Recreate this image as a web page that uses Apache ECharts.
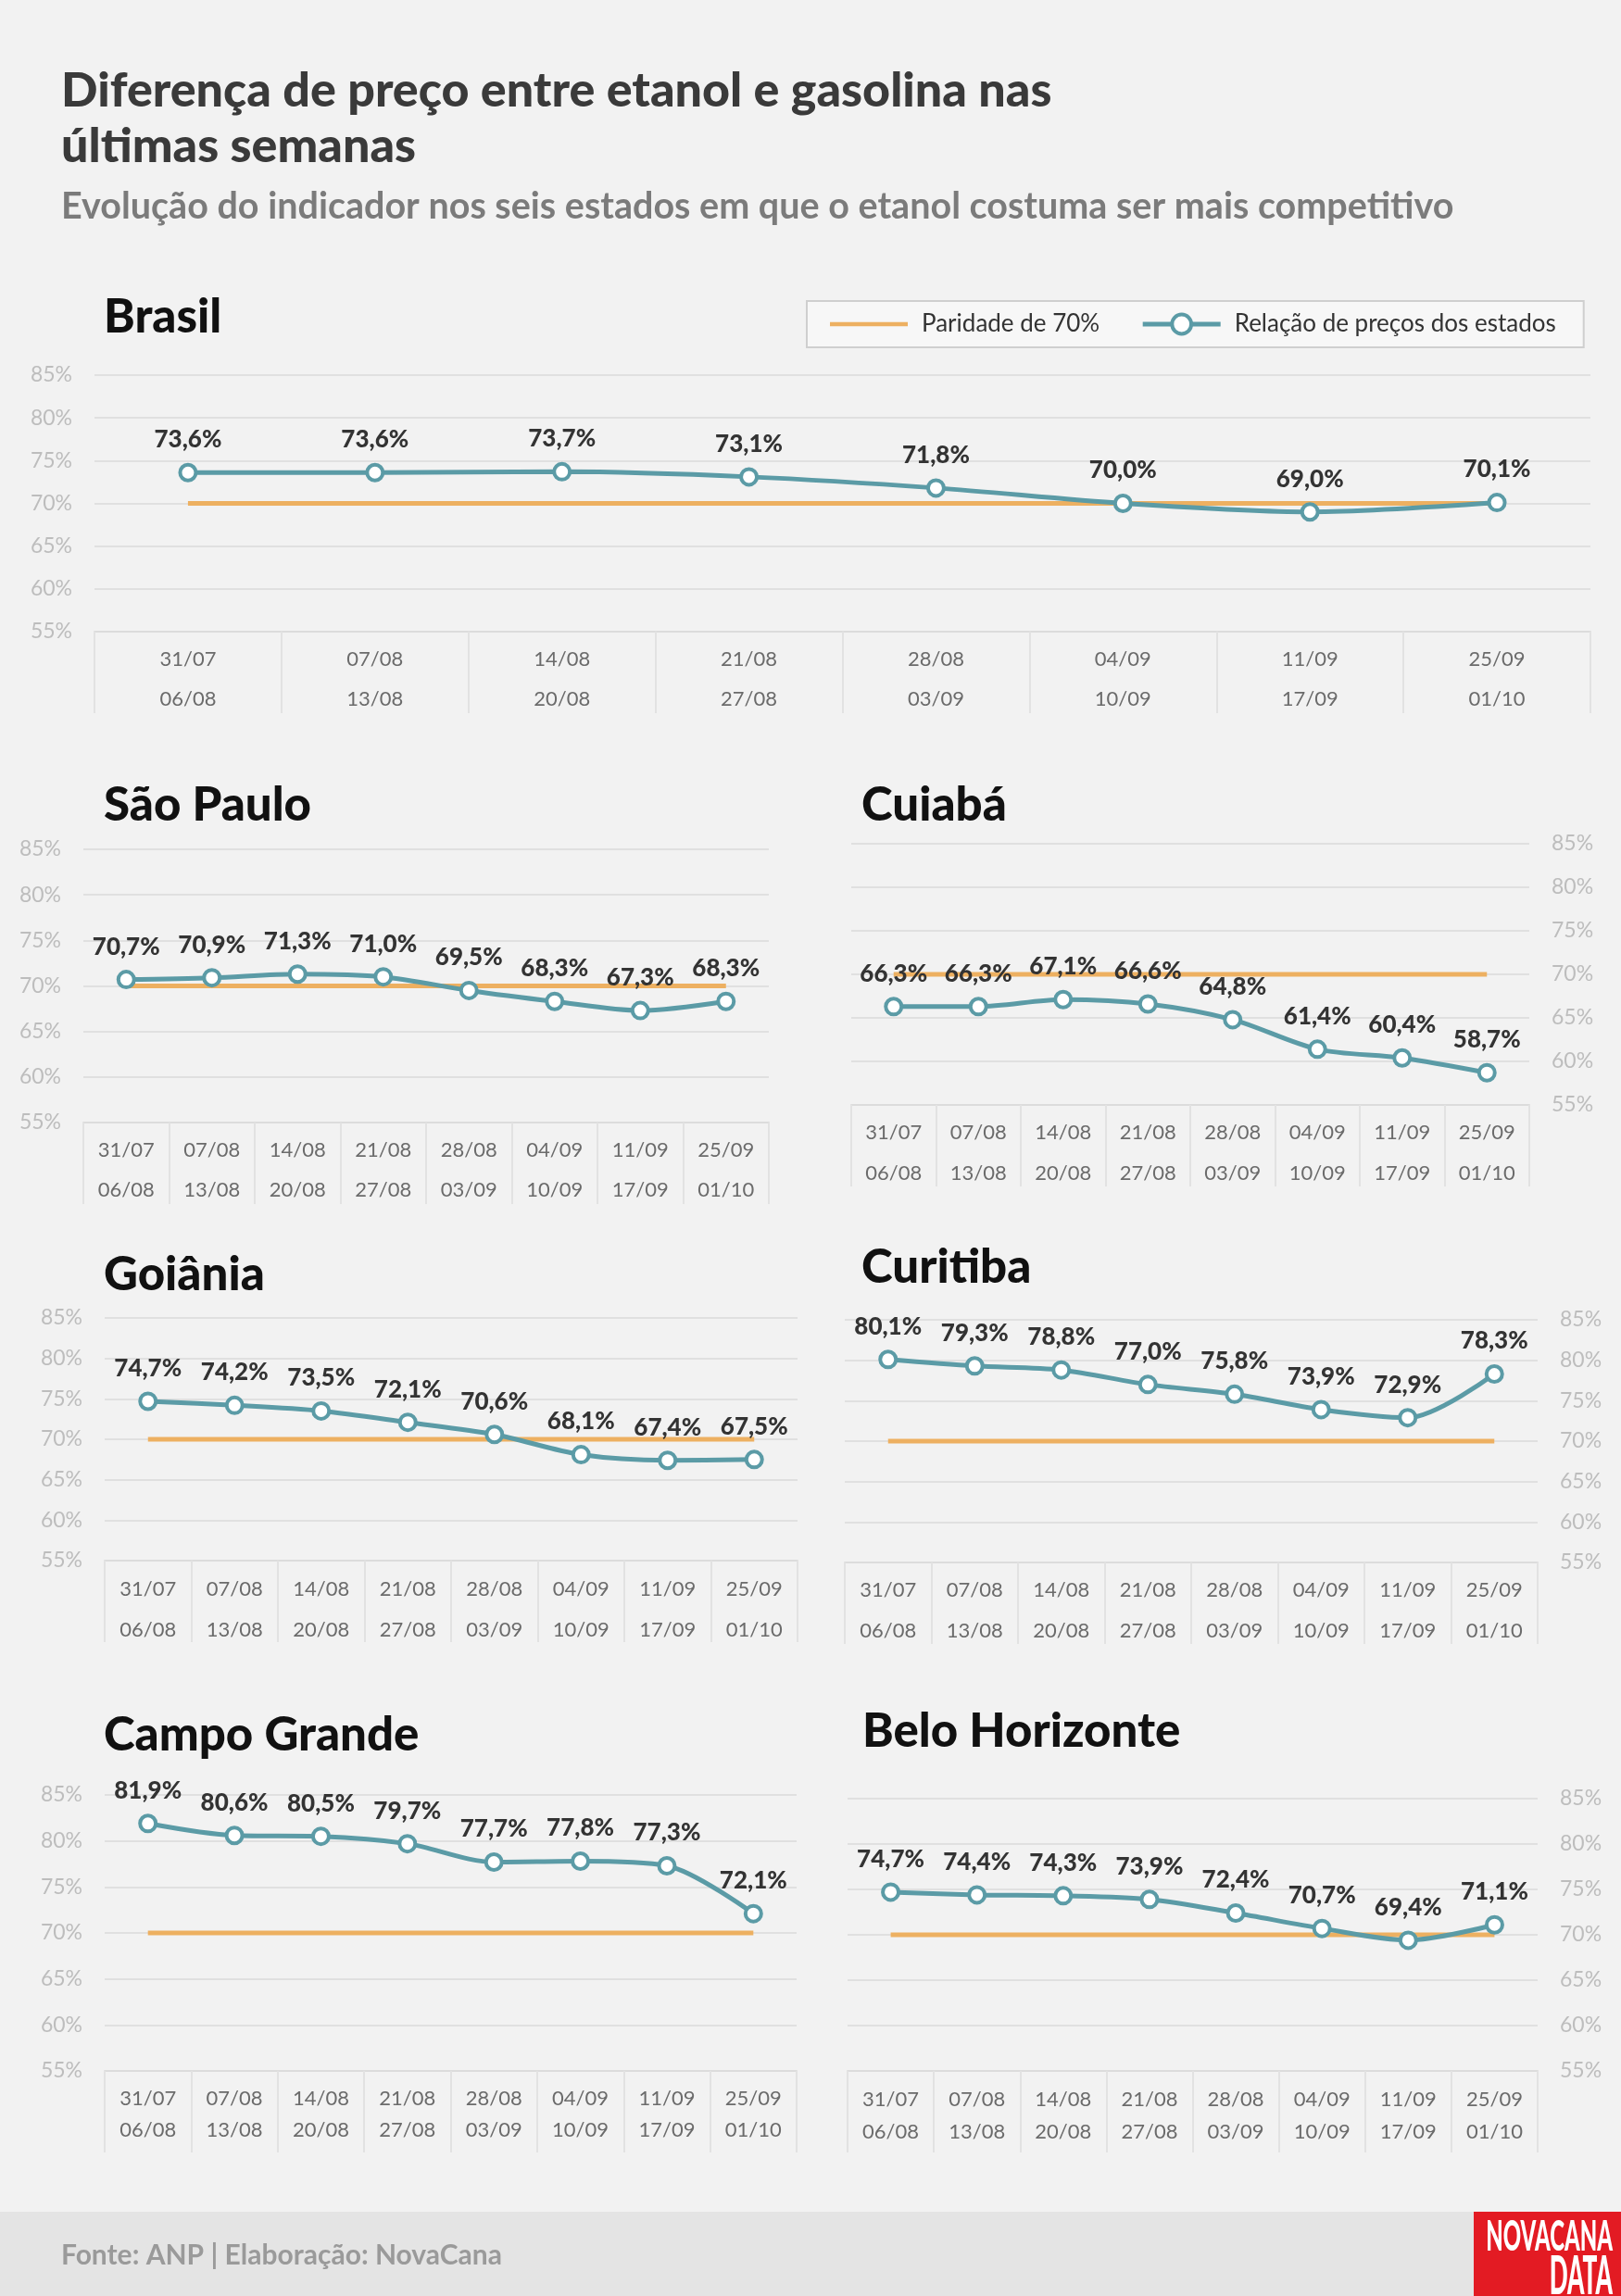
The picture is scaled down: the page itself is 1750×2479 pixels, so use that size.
<!DOCTYPE html>
<html>
<head>
<meta charset="utf-8">
<title>Diferença de preço entre etanol e gasolina</title>
<script src="https://cdn.jsdelivr.net/npm/echarts@6/dist/echarts.min.js"></script>
<style>
  html, body { margin: 0; padding: 0; background: #f2f2f2; }
  #main { width: 1750px; height: 2479px; }
</style>
</head>
<body>
<div id="main"></div>
<script>
// semanas (inicio / fim)
var weekStart = ['31/07', '07/08', '14/08', '21/08', '28/08', '04/09', '11/09', '25/09'];
var weekEnd   = ['06/08', '13/08', '20/08', '27/08', '03/09', '10/09', '17/09', '01/10'];
var yTicks = [55, 60, 65, 70, 75, 80, 85];

// paridade de 70%
var paridade = [70, 70, 70, 70, 70, 70, 70, 70];

// relacao etanol / gasolina (%)
var brasil        = [73.6, 73.6, 73.7, 73.1, 71.8, 70.0, 69.0, 70.1];
var saoPaulo      = [70.7, 70.9, 71.3, 71.0, 69.5, 68.3, 67.3, 68.3];
var cuiaba        = [66.3, 66.3, 67.1, 66.6, 64.8, 61.4, 60.4, 58.7];
var goiania       = [74.7, 74.2, 73.5, 72.1, 70.6, 68.1, 67.4, 67.5];
var curitiba      = [80.1, 79.3, 78.8, 77.0, 75.8, 73.9, 72.9, 78.3];
var campoGrande   = [81.9, 80.6, 80.5, 79.7, 77.7, 77.8, 77.3, 72.1];
var beloHorizonte = [74.7, 74.4, 74.3, 73.9, 72.4, 70.7, 69.4, 71.1];

var categories = weekStart.map(function (s, i) { return s + '\n' + weekEnd[i]; });

var TEAL = '#5b9ba6';
var ORANGE = '#edb061';
var FONT = 'Lato';

var panels = [
  { name: 'Brasil', data: brasil, grid: { left: 102, top: 405, width: 1615, height: 277 }, side: 'left', tx: 112, ty: 318, lh: 43, mg: 8 },
  { name: 'São Paulo', data: saoPaulo, grid: { left: 90, top: 917, width: 740, height: 295 }, side: 'left', tx: 112, ty: 845, lh: 43, mg: 8 },
  { name: 'Cuiabá', data: cuiaba, grid: { left: 919, top: 911, width: 732, height: 282 }, side: 'right', tx: 930, ty: 845, lh: 44, mg: 8 },
  { name: 'Goiânia', data: goiania, grid: { left: 113, top: 1423, width: 748, height: 262 }, side: 'left', tx: 112, ty: 1352, lh: 44, mg: 9 },
  { name: 'Curitiba', data: curitiba, grid: { left: 912, top: 1425, width: 748, height: 262 }, side: 'right', tx: 930, ty: 1344, lh: 44, mg: 8 },
  { name: 'Campo Grande', data: campoGrande, grid: { left: 113, top: 1938, width: 747, height: 298 }, side: 'left', tx: 112, ty: 1849, lh: 34, mg: 13 },
  { name: 'Belo Horizonte', data: beloHorizonte, grid: { left: 915, top: 1942, width: 745, height: 294 }, side: 'right', tx: 931, ty: 1845, lh: 35, mg: 13 }
];

function pct(v) {
  return v.toFixed(1).replace('.', ',') + '%';
}

var grids = [], xAxes = [], yAxes = [], series = [];
var titles = [
  {
    text: 'Diferença de preço entre etanol e gasolina nas\núltimas semanas',
    left: 66, top: 68, padding: 0,
    textStyle: { fontFamily: FONT, fontWeight: 900, fontSize: 52, lineHeight: 60, color: '#3a3a3a' }
  },
  {
    text: 'Evolução do indicador nos seis estados em que o etanol costuma ser mais competitivo',
    left: 66, top: 203, padding: 0,
    textStyle: { fontFamily: FONT, fontWeight: 'bold', fontSize: 39.5, lineHeight: 40, color: '#7b7b7b' }
  }
];

panels.forEach(function (p, i) {
  grids.push(p.grid);
  titles.push({
    text: p.name, left: p.tx, top: p.ty, padding: 0,
    textStyle: { fontFamily: FONT, fontWeight: 900, fontSize: 51, lineHeight: 50, color: '#111' }
  });
  xAxes.push({
    type: 'category', gridIndex: i, data: categories, boundaryGap: true,
    axisLine: { show: true, lineStyle: { color: '#dcdcdc', width: 2 } },
    axisTick: { show: true, interval: 0, length: 88, lineStyle: { color: '#e2e2e2', width: 2 } },
    axisLabel: { interval: 0, margin: p.mg, lineHeight: p.lh, fontFamily: FONT, fontSize: 22, color: '#6b6b6b' }
  });
  yAxes.push({
    type: 'value', gridIndex: i, position: p.side, min: yTicks[0], max: yTicks[yTicks.length - 1], interval: 5,
    axisLine: { show: false }, axisTick: { show: false },
    splitLine: { lineStyle: { color: '#e0e0e0', width: 2 } },
    axisLabel: { formatter: '{value}%', margin: 24, fontFamily: FONT, fontSize: 23, color: '#bdbdbd' }
  });
  series.push({
    name: 'Paridade de 70%', type: 'line', xAxisIndex: i, yAxisIndex: i,
    data: paridade, symbol: 'none', z: 2,
    lineStyle: { color: ORANGE, width: 5 }, itemStyle: { color: ORANGE }
  });
  series.push({
    name: 'Relação de preços dos estados', type: 'line', xAxisIndex: i, yAxisIndex: i,
    data: p.data, smooth: 0.3, z: 3,
    symbol: 'circle', symbolSize: 17,
    lineStyle: { color: TEAL, width: 5 },
    itemStyle: { color: '#ffffff', borderColor: TEAL, borderWidth: 4 },
    label: {
      show: true, position: 'top', distance: 12,
      formatter: function (d) { return pct(d.value); },
      fontFamily: FONT, fontWeight: 900, fontSize: 26, color: '#333333'
    }
  });
});

var chart = echarts.init(document.getElementById('main'));
chart.setOption({
  backgroundColor: '#f2f2f2',
  animation: false,
  title: titles,
  legend: {
    data: [
      { name: 'Paridade de 70%', icon: 'path://M0,0H90V5H0Z' },
      { name: 'Relação de preços dos estados' }
    ],
    left: 871, top: 325,
    padding: [12, 30, 12, 25],
    itemGap: 44, itemWidth: 84, itemHeight: 26,
    backgroundColor: '#f7f7f7', borderColor: '#cfcfcf', borderWidth: 2, borderRadius: 0,
    selectedMode: false,
    lineStyle: { width: 5 },
    itemStyle: { borderWidth: 4 },
    textStyle: { fontFamily: FONT, fontSize: 26, color: '#333', padding: [0, 0, 0, 10] }
  },
  grid: grids,
  xAxis: xAxes,
  yAxis: yAxes,
  series: series,
  graphic: [
    { type: 'rect', left: 0, top: 2388, shape: { width: 1750, height: 91 }, style: { fill: '#e4e4e4' }, z: -1 },
    { type: 'text', x: 66, y: 2435, style: { text: 'Fonte: ANP | Elaboração: NovaCana', font: 'bold 30px Lato', fill: '#9a9a9a', align: 'left', verticalAlign: 'middle' } },
    { type: 'rect', x: 1591, y: 2388, shape: { width: 159, height: 91 }, style: { fill: '#e31b23' } },
    { type: 'text', x: 1741, y: 2415, scaleX: 0.52, style: { text: 'NOVACANA', font: '900 46px Lato', fill: '#ffffff', align: 'right', verticalAlign: 'middle' } },
    { type: 'text', x: 1741, y: 2459, scaleX: 0.46, style: { text: 'DATA', font: '900 57px Lato', fill: '#ffffff', align: 'right', verticalAlign: 'middle' } }
  ]
});
</script>
</body>
</html>
